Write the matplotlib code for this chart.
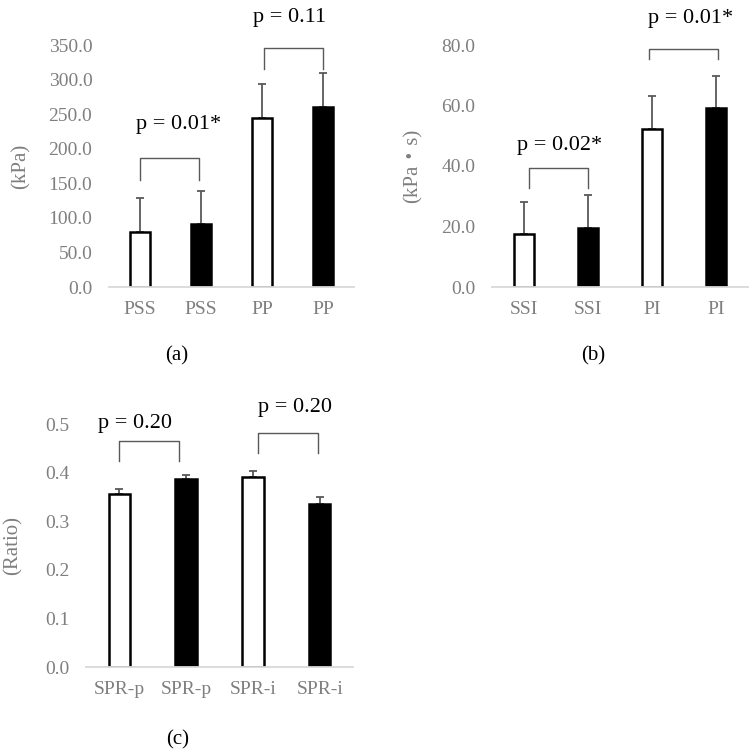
import matplotlib.pyplot as plt
import numpy as np

plt.rcParams['font.family'] = ['Liberation Serif', 'Noto Sans CJK JP', 'DejaVu Serif']

# panel (a)
cats_a = ['PSS', 'PSS', 'PP', 'PP']
vals_a = [80, 91, 245, 261]
err_a = [49, 48, 48, 49]
# panel (b)
cats_b = ['SSI', 'SSI', 'PI', 'PI']
vals_b = [17.5, 19.6, 52.2, 59.3]
err_b = [10.6, 10.8, 11.0, 10.5]
# panel (c)
cats_c = ['SPR-p', 'SPR-p', 'SPR-i', 'SPR-i']
vals_c = [0.355, 0.386, 0.391, 0.335]
err_c = [0.011, 0.010, 0.012, 0.014]

p_a = ['p = 0.01*', 'p = 0.11']
p_b = ['p = 0.02*', 'p = 0.01*']
p_c = ['p = 0.20', 'p = 0.20']

gray = '#7f7f7f'
W, H = 752, 755


def px_axes(fig, x0, x1, ytop, ybot):
    return fig.add_axes([x0 / W, 1 - ybot / H, (x1 - x0) / W, (ybot - ytop) / H])


def panel(ax, cats, vals, errs, ymax, step, fmt, ylabel, brackets, ptexts, label_xy, width):
    x = np.arange(len(cats))
    colors = ['white', 'black', 'white', 'black']
    ax.bar(x, vals, width=width, color=colors, edgecolor='black', linewidth=1.8, zorder=2)
    ax.errorbar(x, vals, yerr=[np.zeros(len(vals)), errs], fmt='none',
                ecolor='#595959', elinewidth=1.3, capsize=3, capthick=1.3, zorder=1)
    ax.set_xlim(-0.5, len(cats) - 0.5)
    ax.set_ylim(0, ymax)
    ticks = np.arange(0, ymax + step / 2, step)
    ax.set_yticks(ticks)
    ax.set_yticklabels([fmt.format(t) for t in ticks])
    ax.set_xticks(x)
    ax.set_xticklabels(cats)
    ax.tick_params(length=0, labelsize=14, labelcolor=gray, pad=10)
    ax.tick_params(axis='y', pad=12)
    for s in ['top', 'right', 'left']:
        ax.spines[s].set_visible(False)
    ax.spines['bottom'].set_color('#d9d9d9')
    ax.spines['bottom'].set_linewidth(1.3)
    ax.set_ylabel(ylabel, fontsize=15, color=gray)
    for (xl, xr, ytop, ybot), (tx, ty, t) in zip(brackets, ptexts):
        ax.plot([xl, xl, xr, xr], [ybot, ytop, ytop, ybot], color='#595959',
                lw=1.0, clip_on=False)
        ax.text(tx, ty, t, ha='center', va='center', fontsize=16, clip_on=False)
    ax.text(label_xy[0], label_xy[1], label_xy[2], ha='center', va='center',
            fontsize=15, transform=ax.figure.transFigure)


fig = plt.figure(figsize=(7.52, 7.55), dpi=100)

ax_a = px_axes(fig, 109, 354, 45, 287)
panel(ax_a, cats_a, vals_a, err_a, 350, 50, '{:.1f}', '(kPa)',
      [(0.0, 0.97, 186, 155), (2.03, 2.99, 345, 316)],
      [(0.63, 235, p_a[0]), (2.45, 390, p_a[1])],
      (177 / W, 1 - 356 / H, '(a)'), 0.33)
ax_a.yaxis.set_label_coords(-0.32, 0.5)

ax_b = px_axes(fig, 492, 748, 45, 287)
panel(ax_b, cats_b, vals_b, err_b, 80, 20, '{:.1f}', '(kPa・s)',
      [(0.08, 1.0, 39.4, 32.7), (1.95, 3.03, 78.7, 75.4)],
      [(0.55, 46.9, p_b[0]), (2.61, 88.6, p_b[1])],
      (593 / W, 1 - 356 / H, '(b)'), 0.32)
ax_b.yaxis.set_label_coords(-0.27, 0.5)

ax_c = px_axes(fig, 86, 353, 424, 667)
panel(ax_c, cats_c, vals_c, err_c, 0.5, 0.1, '{:.1f}', '(Ratio)',
      [(0.0, 0.89, 0.465, 0.424), (2.07, 2.97, 0.481, 0.440)],
      [(0.23, 0.502, p_c[0]), (2.63, 0.533, p_c[1])],
      (178 / W, 1 - 740 / H, '(c)'), 0.32)
ax_c.yaxis.set_label_coords(-0.237, 0.5)

fig.savefig('out.png', dpi=100)
